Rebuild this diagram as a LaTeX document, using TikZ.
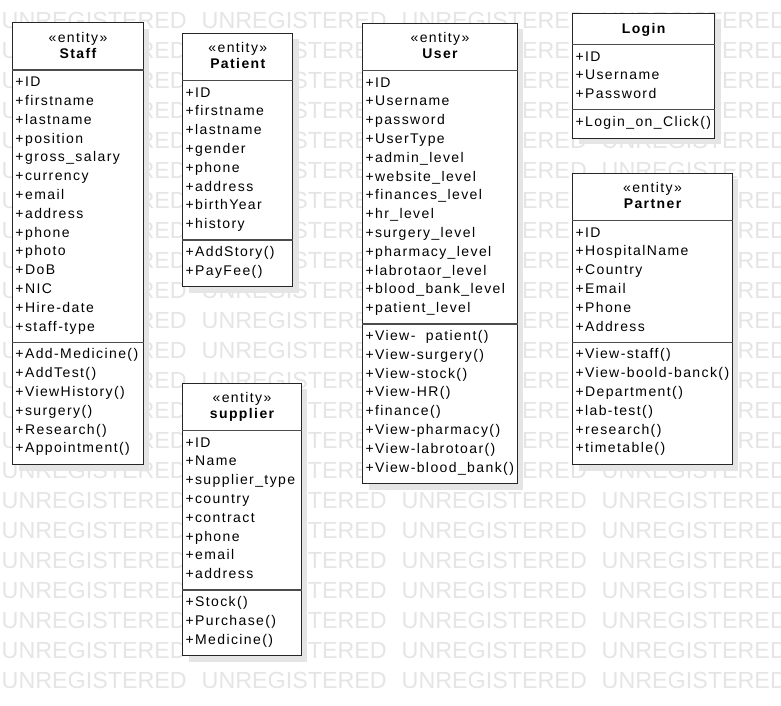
\documentclass[tikz,border=0pt]{standalone}
\usepackage{fontspec}
\newfontfamily\umlfont[LetterSpace=10]{Liberation Sans}
\newfontfamily\wmfont{Liberation Sans}
\usetikzlibrary{shadows}
\newcommand{\classrows}[4]{%
  \foreach \rowtxt [count=\i from 0] in {#4}{%
    \node[rowtext] (#2-\i) at ([shift={(3,{#3+16.7+\i*18.8})}]#1.north west) {\rowtxt};}}
\newcommand{\classsep}[2]{%
  \draw[sepline] ([shift={(0,#2)}]#1.north west) -- ([shift={(0,#2)}]#1.north east);}
\begin{document}
\begin{tikzpicture}[x=1pt,y=-1pt,
  classbox/.style={draw=black!85, line width=1pt, fill=white, inner sep=0pt, anchor=north west,
    drop shadow={shadow xshift=6pt, shadow yshift=-6pt, fill=black!10, opacity=1}},
  sepline/.style={draw=black!70, line width=1.4pt},
  rowtext/.style={anchor=base west, inner sep=0pt, font=\umlfont\fontsize{14}{16}\selectfont},
  hdrtext/.style={anchor=base, inner sep=0pt, font=\umlfont\fontsize{14}{16}\selectfont},
  nametext/.style={anchor=base, inner sep=0pt, font=\umlfont\bfseries\fontsize{14}{16}\selectfont},
  wm/.style={anchor=west, inner sep=0pt, text=black!10, font=\wmfont\fontsize{23.3}{24}\selectfont}
]
\useasboundingbox (0,0) rectangle (781,705);
\clip (0,0) rectangle (781,705);
\fill[white] (0,0) rectangle (781,705);
% watermark
\foreach \r in {0,...,22}{\foreach \c in {0,...,3}{%
  \node[wm] (wm-\r-\c) at ({1.5+200*\c},{20+30*\r}) {UNREGISTERED};}}

% Staff
\node[classbox, minimum width=130.4pt, minimum height=441.7pt] (staff) at (12.3,22.3) {};
\node[hdrtext] (staff-st) at ([shift={(0,20)}]staff.north) {«entity»};
\node[nametext] (staff-nm) at ([shift={(0,36)}]staff.north) {Staff};
\classsep{staff}{47.7}
\classsep{staff}{319.9}
\classrows{staff}{staff-a}{47.7}{+ID,+firstname,+lastname,+position,+gross\_salary,+currency,+email,+address,+phone,+photo,+DoB,+NIC,+Hire-date,+staff-type}
\classrows{staff}{staff-m}{319.9}{+Add-Medicine(),+AddTest(),+ViewHistory(),+surgery(),+Research(),+Appointment()}

% Patient
\node[classbox, minimum width=110pt, minimum height=253.7pt] (patient) at (182.3,32.7) {};
\node[hdrtext] (patient-st) at ([shift={(0,20)}]patient.north) {«entity»};
\node[nametext] (patient-nm) at ([shift={(0,36)}]patient.north) {Patient};
\classsep{patient}{47.7}
\classsep{patient}{207.1}
\classrows{patient}{patient-a}{47.7}{+ID,+firstname,+lastname,+gender,+phone,+address,+birthYear,+history}
\classrows{patient}{patient-m}{207.1}{+AddStory(),+PayFee()}

% supplier
\node[classbox, minimum width=118.4pt, minimum height=272.5pt] (supplier) at (182.3,382.7) {};
\node[hdrtext] (supplier-st) at ([shift={(0,20)}]supplier.north) {«entity»};
\node[nametext] (supplier-nm) at ([shift={(0,36)}]supplier.north) {supplier};
\classsep{supplier}{47.7}
\classsep{supplier}{207.1}
\classrows{supplier}{supplier-a}{47.7}{+ID,+Name,+supplier\_type,+country,+contract,+phone,+email,+address}
\classrows{supplier}{supplier-m}{207.1}{+Stock(),+Purchase(),+Medicine()}

% User
\node[classbox, minimum width=154.4pt, minimum height=460.5pt] (user) at (362.3,22.7) {};
\node[hdrtext] (user-st) at ([shift={(0,20)}]user.north) {«entity»};
\node[nametext] (user-nm) at ([shift={(0,36)}]user.north) {User};
\classsep{user}{47.7}
\classsep{user}{301.1}
\classrows{user}{user-a}{47.7}{+ID,+Username,+password,+UserType,+admin\_level,+website\_level,+finances\_level,+hr\_level,+surgery\_level,+pharmacy\_level,+labrotaor\_level,+blood\_bank\_level,+patient\_level}
\classrows{user}{user-m}{301.1}{+View-\ \ patient(),+View-surgery(),+View-stock(),+View-HR(),+finance(),+View-pharmacy(),+View-labrotoar(),+View-blood\_bank()}

% Login
\node[classbox, minimum width=141.7pt, minimum height=124.8pt] (login) at (572.3,12.7) {};
\node[nametext] (login-nm) at ([shift={(0,20.5)}]login.north) {Login};
\classsep{login}{31.6}
\classsep{login}{97}
\classrows{login}{login-a}{31.6}{+ID,+Username,+Password}
\classrows{login}{login-m}{97}{+Login\_on\_Click()}

% Partner
\node[classbox, minimum width=159.4pt, minimum height=291.3pt] (partner) at (572.3,172.7) {};
\node[hdrtext] (partner-st) at ([shift={(0,20)}]partner.north) {«entity»};
\node[nametext] (partner-nm) at ([shift={(0,36)}]partner.north) {Partner};
\classsep{partner}{47.7}
\classsep{partner}{169.5}
\classrows{partner}{partner-a}{47.7}{+ID,+HospitalName,+Country,+Email,+Phone,+Address}
\classrows{partner}{partner-m}{169.5}{+View-staff(),+View-boold-banck(),+Department(),+lab-test(),+research(),+timetable()}
\end{tikzpicture}
\end{document}
